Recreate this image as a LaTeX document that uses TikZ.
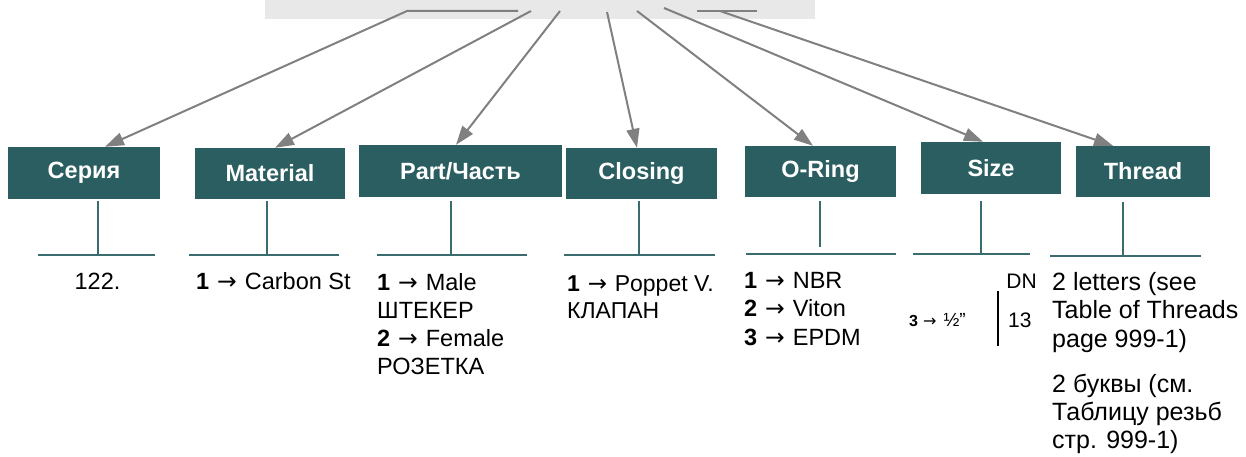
\documentclass[tikz,border=0pt]{standalone}
\usepackage{fontspec}
\setmainfont{Liberation Sans}
\newfontfamily\arrfont{DejaVu Sans}
\newcommand\myarrow{{\arrfont\hspace{0.06em}→\hspace{0.06em}}}
\usetikzlibrary{arrows.meta,calc}
\definecolor{boxteal}{HTML}{2B5E61}
\definecolor{lineteal}{HTML}{3A6C6F}
\definecolor{topgray}{HTML}{E8E8E8}
\definecolor{arrgray}{HTML}{808080}
\begin{document}
\begin{tikzpicture}[x=1pt,y=-1pt,
  hdr/.style={fill=boxteal, text=white, font=\fontsize{23.5}{28}\selectfont\bfseries, inner sep=0pt},
  arr/.style={draw=arrgray, line width=2pt, -{Triangle[length=19pt,width=13pt]}},
  plainline/.style={draw=arrgray, line width=2pt},
  stemline/.style={draw=lineteal, line width=2pt},
  body/.style={font=\fontsize{23.5}{28.5}\selectfont, inner sep=0pt, anchor=base west},
  thr/.style={font=\fontsize{25}{28.5}\selectfont, inner sep=0pt, anchor=base west},
  small/.style={font=\fontsize{21}{24}\selectfont, inner sep=0pt},
]
\useasboundingbox (0,0) rectangle (1246,457);

% top box (cut off)
\node[fill=topgray, minimum width=550pt, minimum height=19pt, inner sep=0pt, anchor=north west] (top) at (265,0) {};

% header boxes
\node[hdr, minimum width=152pt, minimum height=52pt] (serie)  at (84,173)    {Серия};
\node[hdr, minimum width=150pt, minimum height=51pt] (mat)    at (270,173.5) {Material};
\node[hdr, minimum width=203pt, minimum height=52pt] (part)   at (460.5,171) {Part/Часть};
\node[hdr, minimum width=151pt, minimum height=51pt] (clos)   at (641.5,173.5) {Closing};
\node[hdr, minimum width=151pt, minimum height=51pt] (oring)  at (820.5,171.5) {O-Ring};
\node[hdr, minimum width=140pt, minimum height=52pt] (size)   at (991,168)   {Size};
\node[hdr, minimum width=134pt, minimum height=51pt] (thread) at (1143,171.5) {Thread};

% arrow start points
\coordinate (h1r) at (518,11); \coordinate (h1l) at (407,11);
\coordinate (a2) at (531,11);
\coordinate (a3) at (560,11);
\coordinate (a4) at (607,12);
\coordinate (a5) at (637,11);
\coordinate (a6) at (664,8);
\coordinate (h7l) at (697,11); \coordinate (h7r) at (757,11); \coordinate (a7) at (720,11);

\draw[arr] (h1r) -- (h1l) -- ([xshift=21pt]serie.north);
\draw[arr] (a2) -- ([xshift=5pt]mat.north);
\draw[arr] (a3) -- ([xshift=-4.5pt]part.north);
\draw[arr] (a4) -- ([xshift=-4.5pt]clos.north);
\draw[arr] (a5) -- ([xshift=-7.5pt]oring.north);
\draw[arr] (a6) -- ([xshift=-8pt]size.north);
\draw[plainline] (h7l) -- (h7r);
\draw[arr] (a7) -- ([xshift=-30pt]thread.north);

% stems and underlines
\coordinate (u1l) at (38,255);   \coordinate (u1r) at (155,255);  \coordinate (s1) at (98,201);
\coordinate (u2l) at (189,255);  \coordinate (u2r) at (339,255);  \coordinate (s2) at (267,201);
\coordinate (u3l) at (377,255);  \coordinate (u3r) at (527,255);  \coordinate (s3) at (451,201);
\coordinate (u4l) at (564,255);  \coordinate (u4r) at (715,255);  \coordinate (s4) at (639,201);
\coordinate (u5l) at (746,254);  \coordinate (u5r) at (896,254);  \coordinate (s5) at (820,201); \coordinate (s5b) at (820,247);
\coordinate (u6l) at (913,254);  \coordinate (u6r) at (1030,254); \coordinate (s6) at (981,201);
\coordinate (u7l) at (1050,256); \coordinate (u7r) at (1201,256); \coordinate (s7) at (1123,202);

\draw[stemline] (u1l) -- (u1r); \draw[stemline] (s1) -- (s1 |- u1l);
\draw[stemline] (u2l) -- (u2r); \draw[stemline] (s2) -- (s2 |- u2l);
\draw[stemline] (u3l) -- (u3r); \draw[stemline] (s3) -- (s3 |- u3l);
\draw[stemline] (u4l) -- (u4r); \draw[stemline] (s4) -- (s4 |- u4l);
\draw[stemline] (u5l) -- (u5r); \draw[stemline] (s5) -- (s5b);
\draw[stemline] (u6l) -- (u6r); \draw[stemline] (s6) -- (s6 |- u6l);
\draw[stemline] (u7l) -- (u7r); \draw[stemline] (s7) -- (s7 |- u7l);

% texts
\node[body, anchor=base] (t1) at (97.5,289) {122.};
\node[body] (t2) at (196,289) {\textbf{1} \myarrow{} Carbon St};

\node[body] (t3a) at (377,290) {\textbf{1} \myarrow{} Male};
\node[body] (t3b) at (377,318) {ШТЕКЕР};
\node[body] (t3c) at (377,346) {\textbf{2} \myarrow{} Female};
\node[body] (t3d) at (377,374) {РОЗЕТКА};

\node[body, font=\fontsize{23}{28}\selectfont] (t4a) at (567,291) {\textbf{1} \myarrow{} Poppet V.};
\node[body, font=\fontsize{23}{28}\selectfont] (t4b) at (567,318) {КЛАПАН};

\node[body] (t5a) at (744,288)   {\textbf{1} \myarrow{} NBR};
\node[body] (t5b) at (744,316.5) {\textbf{2} \myarrow{} Viton};
\node[body] (t5c) at (744,345)   {\textbf{3} \myarrow{} EPDM};

\node[small, anchor=base east] (dn) at (1037,288) {DN};
\node[small, anchor=base west] (n13) at (1008,327) {13};
\node[font=\fontsize{16}{18}\selectfont, inner sep=0pt, anchor=base west] (half) at (909,326)
  {\textbf{3}\hspace{5pt}{\arrfont →}\hspace{7pt}{\fontsize{19}{20}\selectfont ½”}};
\coordinate (v1) at (998,291); \coordinate (v2) at (998,346);
\draw[black, line width=2.5pt] (v1) -- (v2);

\node[thr] (t7a) at (1052,290)   {2 letters (see};
\node[thr] (t7b) at (1052,318.5) {Table of Threads};
\node[thr] (t7c) at (1052,347)   {page 999-1)};
\node[thr] (t7d) at (1052,392)   {2 буквы (см.};
\node[thr] (t7e) at (1052,420)   {Таблицу резьб};
\node[thr] (t7f) at (1052,448)   {стр. 999-1)};
\end{tikzpicture}
\end{document}
